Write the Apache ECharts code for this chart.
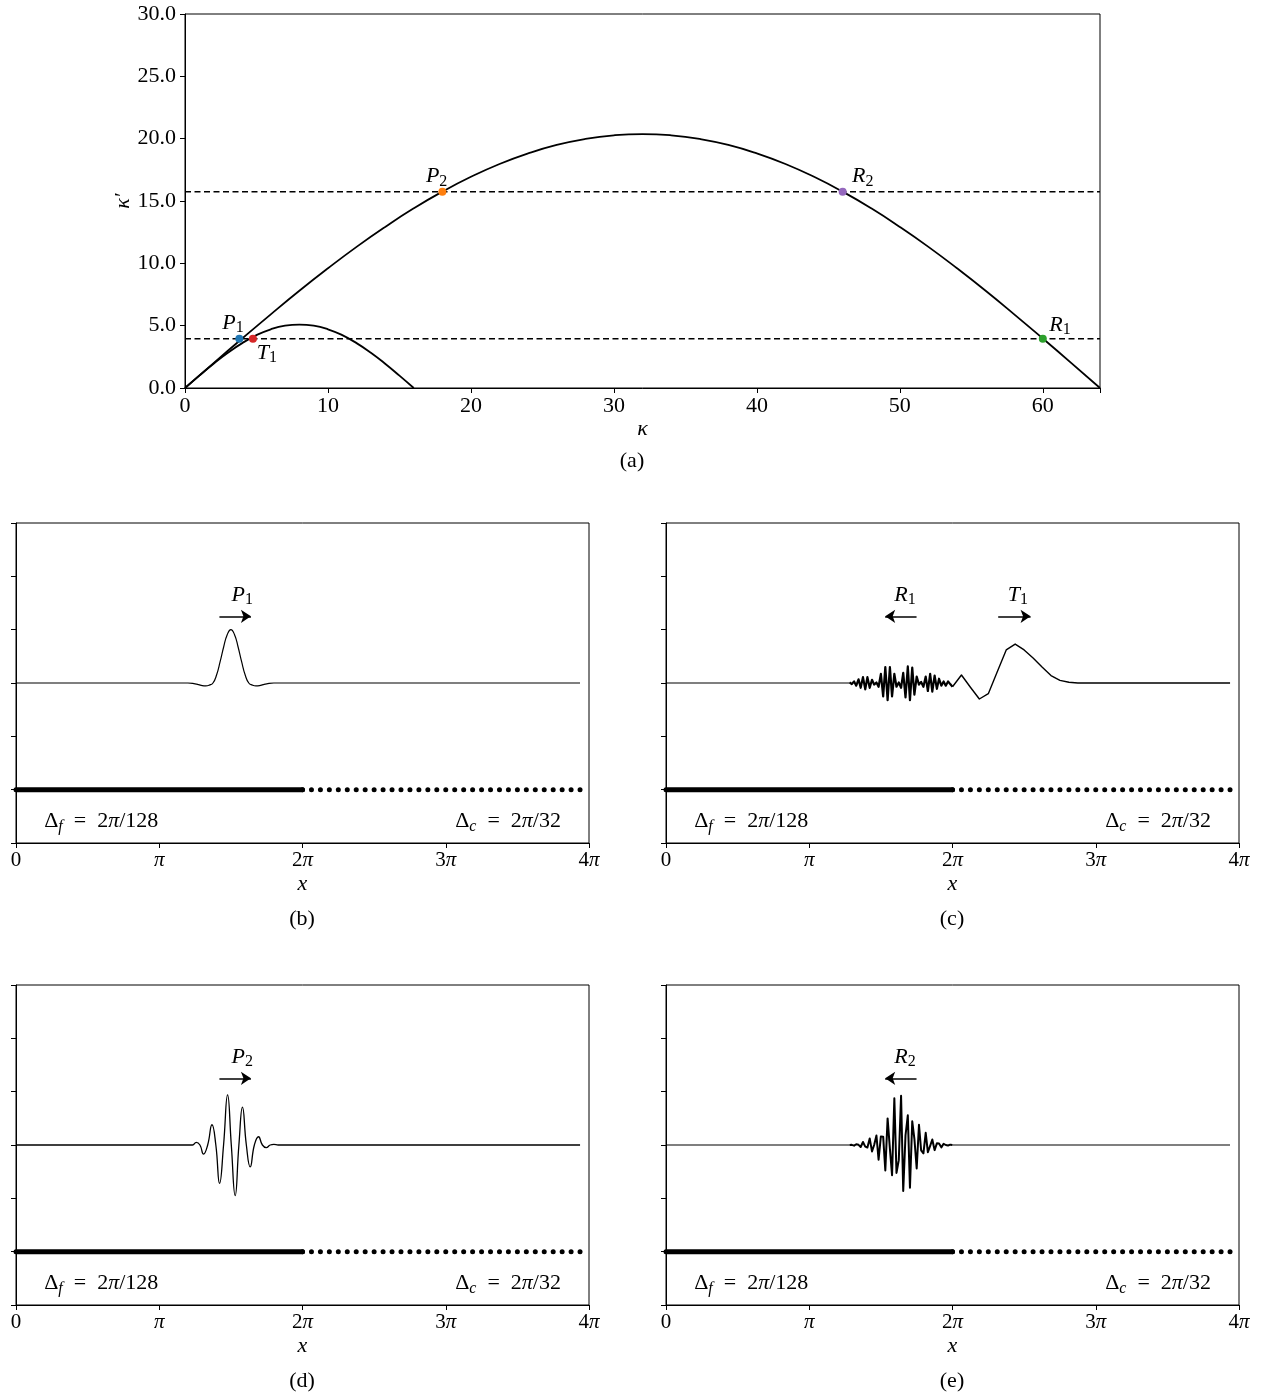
<!DOCTYPE html>
<html>
<head>
<meta charset="utf-8">
<script src="https://cdn.jsdelivr.net/npm/echarts@6/dist/echarts.min.js"></script>
<style>
html, body { margin: 0; padding: 0; background: #fff; }
#chart { width: 1263px; height: 1397px; }
</style>
</head>
<body>
<div id="chart"></div>
<script>
// ---------- panel (a): modified wavenumber ----------
const kappaCoarse = [0, 2, 4, 6, 8, 10, 12, 14, 16, 18, 20, 22, 24, 26, 28, 30, 32, 34, 36, 38, 40, 42, 44, 46, 48, 50, 52, 54, 56, 58, 60, 62, 64];
const kappaPrimeCoarse = [0, 2.00, 3.97, 5.91, 7.80, 9.60, 11.32, 12.92, 14.41, 15.75, 16.94, 17.97, 18.82, 19.50, 19.98, 20.27, 20.37, 20.27, 19.98, 19.50, 18.82, 17.97, 16.94, 15.75, 14.41, 12.92, 11.32, 9.60, 7.80, 5.91, 3.97, 2.00, 0];
const kappaFine = [0, 1, 2, 3, 4, 5, 6, 7, 8, 9, 10, 11, 12, 13, 14, 15, 16];
const kappaPrimeFine = [0, 0.99, 1.95, 2.83, 3.60, 4.24, 4.71, 5.00, 5.09, 5.00, 4.71, 4.24, 3.60, 2.83, 1.95, 0.99, 0];
const levels = [3.95, 15.75];
const pointNames = ['P1', 'T1', 'P2', 'R2', 'R1'];
const pointKappa = [3.8, 4.75, 18, 46, 60];
const pointKappaPrime = [3.95, 3.95, 15.75, 15.75, 3.95];
const pointColors = ['#1f77b4', '#d62728', '#ff7f0e', '#9467bd', '#2ca02c'];

// ---------- panels (b)-(e): x in units of pi ----------
const fineSpan = [0, 2];
const coarseX = [2, 2.0625, 2.125, 2.1875, 2.25, 2.3125, 2.375, 2.4375, 2.5, 2.5625, 2.625, 2.6875, 2.75, 2.8125, 2.875, 2.9375,
  3, 3.0625, 3.125, 3.1875, 3.25, 3.3125, 3.375, 3.4375, 3.5, 3.5625, 3.625, 3.6875, 3.75, 3.8125, 3.875, 3.9375];
const flatLeft = [[0, 0], [1.281, 0]];
const flatRight = [[2.0, 0], [3.9375, 0]];

// (b) P1 packet
const bX = [0, 1.2, 1.25, 1.275, 1.3, 1.325, 1.35, 1.375, 1.4, 1.425, 1.45, 1.475, 1.5, 1.525, 1.55, 1.575, 1.6, 1.625, 1.65, 1.675, 1.7, 1.725, 1.75, 1.8, 3.9375];
const bY = [0, 0, -0.015, -0.03, -0.05, -0.055, -0.04, 0, 0.15, 0.40, 0.68, 0.91, 1.0, 0.91, 0.68, 0.40, 0.15, 0, -0.04, -0.055, -0.05, -0.03, -0.015, 0, 0];

// fine-grid nodes used by (c) and (e)
const fineX = [1.281, 1.297, 1.313, 1.328, 1.344, 1.359, 1.375, 1.391, 1.406, 1.422, 1.438, 1.453, 1.469, 1.484, 1.5, 1.516,
  1.531, 1.547, 1.563, 1.578, 1.594, 1.609, 1.625, 1.641, 1.656, 1.672, 1.688, 1.703, 1.719, 1.734, 1.75, 1.766,
  1.781, 1.797, 1.813, 1.828, 1.844, 1.859, 1.875, 1.891, 1.906, 1.922, 1.938, 1.953, 1.969, 1.984, 2.0];

// (c) R1 reflected packet (fine grid) + T1 transmitted packet (coarse grid)
const r1Y = [0.01, -0.02, 0.03, -0.05, 0.07, -0.09, 0.11, -0.12, 0.11, -0.09, 0.06, -0.03, 0.01, -0.07, 0.17, -0.25,
  0.30, -0.32, 0.30, -0.25, 0.17, -0.07, 0.01, -0.09, 0.19, -0.27, 0.31, -0.32, 0.29, -0.22, 0.12, -0.03,
  0.02, -0.07, 0.12, -0.15, 0.17, -0.16, 0.14, -0.11, 0.08, -0.05, 0.03, -0.05, 0.03, -0.02, -0.07];
const t1X = [2.0, 2.0625, 2.125, 2.1875, 2.25, 2.3125, 2.375, 2.4375, 2.5, 2.5625, 2.625, 2.6875, 2.75, 2.8125, 2.875, 3.9375];
const t1Y = [-0.07, 0.15, -0.08, -0.30, -0.20, 0.21, 0.62, 0.73, 0.62, 0.47, 0.30, 0.14, 0.05, 0.015, 0, 0];

// (d) P2 packet
const dX = [0, 1.2, 1.232, 1.258, 1.284, 1.309, 1.338, 1.368, 1.395, 1.421, 1.449, 1.477, 1.503, 1.530, 1.556, 1.581, 1.608, 1.635, 1.664, 1.693, 1.720, 1.747, 1.775, 1.80, 1.83, 3.9375];
const dY = [0, 0, 0, 0.05, 0, -0.17, 0, 0.38, 0, -0.72, 0, 0.94, 0, -0.95, 0, 0.71, 0, -0.41, 0, 0.155, 0, -0.05, 0, 0.01, 0, 0];

// (e) R2 packet (fine grid)
const r2Y = [0, 0.003, -0.012, 0.014, 0.003, -0.037, 0.057, -0.031, -0.047, 0.123, -0.120, 0, 0.178, -0.275, 0.160, 0.157,
  -0.479, 0.499, -0.069, -0.566, 0.876, -0.523, -0.284, 0.924, -0.864, 0.183, 0.558, -0.80, 0.444, 0.117, -0.441, 0.379,
  -0.099, -0.156, 0.229, -0.134, -0.015, 0.104, -0.096, 0.031, 0.028, -0.044, 0.023, 0, -0.009, 0.006, 0];

const SERIF = "'Liberation Serif', 'DejaVu Serif', serif";
const black = '#000';
const clear = 'rgba(0,0,0,0)';
const zip = (xs, ys) => xs.map((x, i) => [x, ys[i]]);

const RICH = {
  m: { fontFamily: SERIF, fontStyle: 'italic', fontSize: 22, color: black, lineHeight: 26 },
  n: { fontFamily: SERIF, fontSize: 22, color: black, lineHeight: 26 },
  s: { fontFamily: SERIF, fontSize: 16, color: black, lineHeight: 16, padding: [10, 0, 0, 0] },
  si: { fontFamily: SERIF, fontStyle: 'italic', fontSize: 16, color: black, lineHeight: 16, padding: [10, 0, 0, 0] }
};
const noteLabel = { show: true, position: 'inside', color: black, textBorderWidth: 0, textBorderColor: clear, rich: RICH };
const noteItem = { color: clear, opacity: 1 };
const sub = name => '{m|' + name[0] + '}{s|' + name.slice(1) + '}';

const axisLine = { show: true, onZero: false, lineStyle: { color: black, width: 1 } };
const axisTick = { show: true, length: 5, lineStyle: { color: black, width: 1 } };

const gridBox = { show: true, borderColor: black, borderWidth: 1, backgroundColor: 'transparent', outerBoundsMode: 'none', containLabel: false };
const grids = [
  Object.assign({ left: 185, top: 14, width: 915, height: 374 }, gridBox),
  Object.assign({ left: 16, top: 523, width: 573, height: 320 }, gridBox),
  Object.assign({ left: 666, top: 523, width: 573, height: 320 }, gridBox),
  Object.assign({ left: 16, top: 985, width: 573, height: 320 }, gridBox),
  Object.assign({ left: 666, top: 985, width: 573, height: 320 }, gridBox)
];

const xAxes = [{
  gridIndex: 0, type: 'value', min: 0, max: 64, interval: 10,
  axisLine, axisTick, splitLine: { show: false },
  axisLabel: { color: black, fontFamily: SERIF, fontSize: 22, margin: 7, formatter: v => (v % 10 === 0 ? String(v) : '') },
  name: 'κ', nameLocation: 'middle', nameGap: 30, nameMoveOverlap: false,
  nameTextStyle: { fontFamily: SERIF, fontStyle: 'italic', fontSize: 22, color: black }
}];
const yAxes = [{
  gridIndex: 0, type: 'value', min: 0, max: 30, interval: 5,
  axisLine, axisTick, splitLine: { show: false },
  axisLabel: { color: black, fontFamily: SERIF, fontSize: 22, margin: 9, formatter: v => v.toFixed(1) },
  name: 'κ′', nameLocation: 'middle', nameGap: 51, nameMoveOverlap: false,
  nameTextStyle: { fontFamily: SERIF, fontStyle: 'italic', fontSize: 22, color: black }
}];
const piLabel = v => (v === 0 ? '{n|0}' : v === 1 ? '{i|π}' : '{n|' + v + '}{i|π}');
for (let g = 1; g <= 4; g++) {
  xAxes.push({
    gridIndex: g, type: 'value', min: 0, max: 4, interval: 1,
    axisLine, axisTick, splitLine: { show: false },
    axisLabel: {
      margin: 7, formatter: piLabel,
      rich: {
        n: { fontFamily: SERIF, fontSize: 21, color: black },
        i: { fontFamily: SERIF, fontStyle: 'italic', fontSize: 21, color: black }
      }
    },
    name: 'x', nameLocation: 'middle', nameGap: 30, nameMoveOverlap: false,
    nameTextStyle: { fontFamily: SERIF, fontStyle: 'italic', fontSize: 22, color: black }
  });
  yAxes.push({
    gridIndex: g, type: 'value', min: -3, max: 3, interval: 1,
    axisLine, axisTick, splitLine: { show: false }, axisLabel: { show: false }
  });
}

const series = [];

// panel (a)
series.push({
  type: 'line', xAxisIndex: 0, yAxisIndex: 0, data: zip(kappaCoarse, kappaPrimeCoarse),
  smooth: true, showSymbol: false, lineStyle: { color: black, width: 1.8 }, z: 3
});
series.push({
  type: 'line', xAxisIndex: 0, yAxisIndex: 0, data: zip(kappaFine, kappaPrimeFine),
  smooth: true, showSymbol: false, lineStyle: { color: black, width: 1.8 }, z: 3
});
levels.forEach(lv => series.push({
  type: 'line', xAxisIndex: 0, yAxisIndex: 0, data: [[0, lv], [64, lv]],
  showSymbol: false, lineStyle: { color: black, width: 1.5, type: [6, 3.5] }, z: 2
}));
series.push({
  type: 'scatter', xAxisIndex: 0, yAxisIndex: 0, symbolSize: 8, z: 5,
  data: pointNames.map((n, i) => ({ value: [pointKappa[i], pointKappaPrime[i]], itemStyle: { color: pointColors[i], opacity: 1 } }))
});
const labelPosA = { P1: [3.36, 5.2], T1: [5.73, 2.8], P2: [17.6, 16.95], R2: [47.4, 16.95], R1: [61.2, 5.05] };
series.push({
  type: 'scatter', xAxisIndex: 0, yAxisIndex: 0, symbolSize: 1, itemStyle: noteItem, z: 6,
  label: noteLabel,
  data: pointNames.map(n => ({ value: labelPosA[n], label: { formatter: sub(n) } }))
});

// panels (b)-(e): each wave is [data, smooth, lineWidth]
const panels = [
  { waves: [[zip(bX, bY), true, 1.2]], notes: [{ name: 'P1', at: [1.58, 1.65], arrow: [1.42, 1.64] }] },
  { waves: [[flatLeft, false, 1.2], [zip(fineX, r1Y), false, 2.2], [zip(t1X, t1Y), false, 1.4]],
    notes: [{ name: 'R1', at: [1.668, 1.65], arrow: [1.749, 1.53] }, { name: 'T1', at: [2.456, 1.65], arrow: [2.319, 2.545] }] },
  { waves: [[zip(dX, dY), true, 1.3]], notes: [{ name: 'P2', at: [1.58, 1.65], arrow: [1.42, 1.64] }] },
  { waves: [[flatLeft, false, 1.2], [zip(fineX, r2Y), false, 2.0], [flatRight, false, 1.2]],
    notes: [{ name: 'R2', at: [1.668, 1.65], arrow: [1.749, 1.53] }] }
];
const arrowY = 1.25;
const gridRowY = -2;

panels.forEach((p, k) => {
  const g = k + 1;
  p.waves.forEach(([w, smooth, lw]) => series.push({
    type: 'line', xAxisIndex: g, yAxisIndex: g, data: w, smooth,
    showSymbol: false, lineStyle: { color: black, width: lw, join: 'round' }, z: 3
  }));
  series.push({
    type: 'line', xAxisIndex: g, yAxisIndex: g, data: fineSpan.map(x => [x, gridRowY]),
    showSymbol: false, lineStyle: { color: black, width: 5, cap: 'round' }, z: 3
  });
  series.push({
    type: 'scatter', xAxisIndex: g, yAxisIndex: g, symbolSize: 5,
    itemStyle: { color: black, opacity: 1 }, data: coarseX.map(x => [x, gridRowY]), z: 3
  });
  series.push({
    type: 'scatter', xAxisIndex: g, yAxisIndex: g, symbolSize: 1, itemStyle: noteItem, z: 6,
    label: noteLabel,
    data: p.notes.map(n => ({ value: n.at, label: { formatter: sub(n.name) } })).concat([
      { value: [0.595, -2.6], label: { formatter: '{n|Δ}{si|f}{n|\u2002=\u20022}{m|π}{n|/128}' } },
      { value: [3.435, -2.6], label: { formatter: '{n|Δ}{si|c}{n|\u2002=\u20022}{m|π}{n|/32}' } }
    ]),
    markLine: {
      silent: true, symbol: ['none', 'arrow'], symbolSize: 10,
      label: { show: false }, lineStyle: { color: black, width: 1.5, type: 'solid' },
      data: p.notes.map(n => [{ coord: [n.arrow[0], arrowY] }, { coord: [n.arrow[1], arrowY] }])
    }
  });
});

const caption = (t, x, y) => ({
  type: 'text', x, y,
  style: { text: t, fill: black, fontFamily: SERIF, fontSize: 22, textAlign: 'center', textVerticalAlign: 'middle', align: 'center', verticalAlign: 'middle' }
});

const chart = echarts.init(document.getElementById('chart'));
chart.setOption({
  animation: false,
  backgroundColor: '#fff',
  grid: grids,
  xAxis: xAxes,
  yAxis: yAxes,
  series,
  graphic: [
    caption('(a)', 632, 461),
    caption('(b)', 302, 919),
    caption('(c)', 952, 919),
    caption('(d)', 302, 1381),
    caption('(e)', 952, 1381)
  ]
});
</script>
</body>
</html>
